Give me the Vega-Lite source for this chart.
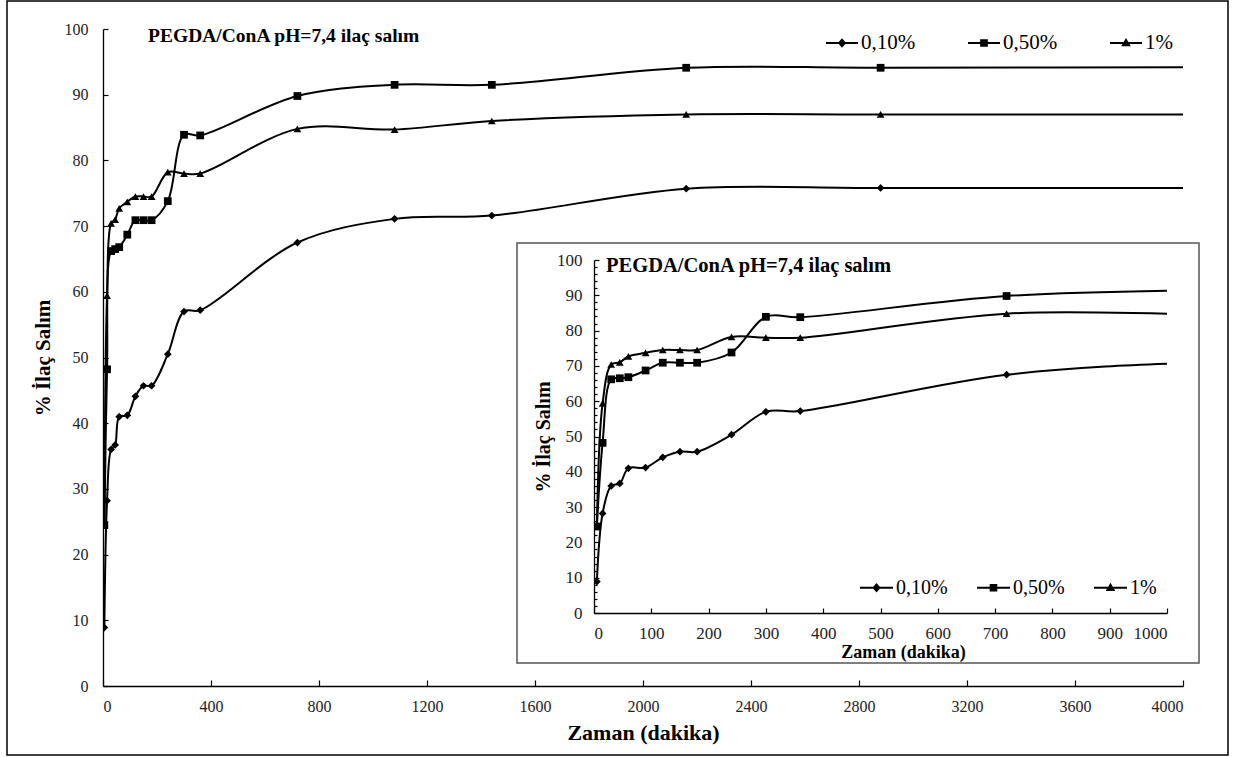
{
  "$schema": "https://vega.github.io/schema/vega-lite/v6.json",
  "background": "white",
  "padding": {"left": 6, "top": 0, "right": 0, "bottom": 0},
  "config": {
    "view": {"stroke": null},
    "font": "Liberation Serif",
    "axis": {"grid": false, "domainColor": "black", "tickColor": "black", "labelColor": "#222", "titleColor": "black", "labelFont": "Liberation Serif", "titleFont": "Liberation Serif", "titleFontWeight": "bold", "domainWidth": 1.3, "tickWidth": 1.2}
  },
  "datasets": {
    "d": [
      {"t": 5, "v": 8.9, "s": "0,10%"}, {"t": 15, "v": 28.2, "s": "0,10%"}, {"t": 30, "v": 36.0, "s": "0,10%"}, {"t": 45, "v": 36.7, "s": "0,10%"}, {"t": 60, "v": 41.0, "s": "0,10%"}, {"t": 90, "v": 41.2, "s": "0,10%"}, {"t": 120, "v": 44.1, "s": "0,10%"}, {"t": 150, "v": 45.7, "s": "0,10%"}, {"t": 180, "v": 45.7, "s": "0,10%"}, {"t": 240, "v": 50.5, "s": "0,10%"}, {"t": 300, "v": 57.0, "s": "0,10%"}, {"t": 360, "v": 57.2, "s": "0,10%"}, {"t": 720, "v": 67.5, "s": "0,10%"}, {"t": 1080, "v": 71.1, "s": "0,10%"}, {"t": 1440, "v": 71.6, "s": "0,10%"}, {"t": 2160, "v": 75.7, "s": "0,10%"}, {"t": 2880, "v": 75.8, "s": "0,10%"}, {"t": 4320, "v": 75.8, "s": "0,10%"},
      {"t": 5, "v": 24.5, "s": "0,50%"}, {"t": 15, "v": 48.2, "s": "0,50%"}, {"t": 30, "v": 66.2, "s": "0,50%"}, {"t": 45, "v": 66.5, "s": "0,50%"}, {"t": 60, "v": 66.8, "s": "0,50%"}, {"t": 90, "v": 68.7, "s": "0,50%"}, {"t": 120, "v": 70.9, "s": "0,50%"}, {"t": 150, "v": 70.9, "s": "0,50%"}, {"t": 180, "v": 70.9, "s": "0,50%"}, {"t": 240, "v": 73.8, "s": "0,50%"}, {"t": 300, "v": 83.9, "s": "0,50%"}, {"t": 360, "v": 83.8, "s": "0,50%"}, {"t": 720, "v": 89.8, "s": "0,50%"}, {"t": 1080, "v": 91.5, "s": "0,50%"}, {"t": 1440, "v": 91.5, "s": "0,50%"}, {"t": 2160, "v": 94.1, "s": "0,50%"}, {"t": 2880, "v": 94.1, "s": "0,50%"}, {"t": 4320, "v": 94.2, "s": "0,50%"},
      {"t": 5, "v": 24.5, "s": "1%"}, {"t": 15, "v": 59.4, "s": "1%"}, {"t": 30, "v": 70.4, "s": "1%"}, {"t": 45, "v": 71.0, "s": "1%"}, {"t": 60, "v": 72.7, "s": "1%"}, {"t": 90, "v": 73.7, "s": "1%"}, {"t": 120, "v": 74.5, "s": "1%"}, {"t": 150, "v": 74.5, "s": "1%"}, {"t": 180, "v": 74.5, "s": "1%"}, {"t": 240, "v": 78.2, "s": "1%"}, {"t": 300, "v": 78.0, "s": "1%"}, {"t": 360, "v": 78.0, "s": "1%"}, {"t": 720, "v": 84.8, "s": "1%"}, {"t": 1080, "v": 84.7, "s": "1%"}, {"t": 1440, "v": 86.0, "s": "1%"}, {"t": 2160, "v": 87.0, "s": "1%"}, {"t": 2880, "v": 87.0, "s": "1%"}, {"t": 4320, "v": 87.0, "s": "1%"}
    ]
  },
  "bounds": "flush",
  "align": "none",
  "columns": 1,
  "spacing": -726,
  "resolve": {"scale": {"shape": "independent"}, "legend": {"shape": "independent"}},
  "concat": [
    {
      "width": 1221, "height": 754,
      "data": {"values": [{}]},
      "mark": {"type": "point", "opacity": 0},
      "view": {"stroke": "black", "strokeWidth": 1.5, "fill": "white"}
    },
    {
      "bounds": "flush",
      "spacing": 0,
      "resolve": {"scale": {"shape": "independent"}, "legend": {"shape": "independent"}},
      "hconcat": [
        {"width": 96, "height": 1, "data": {"values": [{}]}, "mark": {"type": "point", "opacity": 0}},
        {
          "bounds": "flush",
          "align": "none",
          "columns": 1,
          "spacing": -443,
          "resolve": {"scale": {"shape": "independent"}, "legend": {"shape": "independent"}},
          "concat": [
            {
              "width": 1080, "height": 657,
              "data": {"name": "d"},
              "resolve": {"scale": {"shape": "independent"}, "legend": {"shape": "independent"}},
              "layer": [
                {"mark": {"type": "line", "interpolate": "catmull-rom", "color": "black", "strokeWidth": 2, "clip": true},
                 "encoding": {
                   "x": {"field": "t", "type": "quantitative", "scale": {"domain": [0, 4000], "nice": false}, "axis": {"values": [0, 400, 800, 1200, 1600, 2000, 2400, 2800, 3200, 3600, 4000], "format": "d", "tickSize": -6, "labelPadding": 18, "labelFontSize": 16, "title": "Zaman (dakika)", "titleFontSize": 22, "titlePadding": 8}},
                   "y": {"field": "v", "type": "quantitative", "scale": {"domain": [0, 100], "nice": false}, "axis": {"values": [0, 10, 20, 30, 40, 50, 60, 70, 80, 90, 100], "format": "d", "tickSize": -5, "labelPadding": 20, "labelFontSize": 16, "title": "% İlaç Salım", "titleFontSize": 21, "titlePadding": 11}},
                   "detail": {"field": "s", "type": "nominal"}}},
                {"mark": {"type": "point", "filled": true, "color": "black", "opacity": 1, "size": 60, "clip": true},
                 "encoding": {
                   "x": {"field": "t", "type": "quantitative"},
                   "y": {"field": "v", "type": "quantitative"},
                   "shape": {"field": "s", "type": "nominal", "scale": {"domain": ["0,10%", "0,50%", "1%"], "range": ["diamond", "square", "triangle-up"]}, "legend": null}}},
                {"mark": {"type": "point", "filled": true, "color": "black", "opacity": 0},
                 "encoding": {
                   "shape": {"field": "s", "type": "nominal", "scale": {"domain": ["0,10%", "0,50%", "1%"], "range": ["M-1,-0.06H1V0.06H-1ZM0,-0.3L0.26,0L0,0.3L-0.26,0Z", "M-1,-0.06H1V0.06H-1ZM-0.24,-0.24H0.24V0.24H-0.24Z", "M-1,-0.06H1V0.06H-1ZM0,-0.32L0.3,0.2H-0.3Z"]},
                     "legend": {"orient": "none", "legendX": 723, "legendY": -2, "direction": "horizontal", "title": null, "symbolSize": 1024, "symbolOpacity": 1, "labelFont": "Liberation Serif", "labelFontSize": 21, "labelColor": "black", "labelOffset": 3, "columnPadding": 52, "symbolStrokeWidth": 0, "symbolFillColor": "black"}}}},
                {"data": {"values": [{}]},
                 "mark": {"type": "text", "text": "PEGDA/ConA pH=7,4 ilaç salım", "align": "left", "baseline": "alphabetic", "font": "Liberation Serif", "fontSize": 19.5, "fontWeight": "bold", "color": "black"},
                 "encoding": {"x": {"datum": 167, "type": "quantitative"}, "y": {"datum": 98, "type": "quantitative"}}}
              ]
            },
            {
              "bounds": "flush",
              "spacing": 0,
              "resolve": {"scale": {"shape": "independent"}, "legend": {"shape": "independent"}},
              "hconcat": [
                {"width": 414, "height": 1, "data": {"values": [{}]}, "mark": {"type": "point", "opacity": 0}},
                {
                  "bounds": "flush",
                  "align": "none",
                  "columns": 1,
                  "spacing": -403,
                  "resolve": {"scale": {"shape": "independent"}, "legend": {"shape": "independent"}},
                  "concat": [
                    {
                      "width": 682, "height": 420,
                      "data": {"values": [{}]},
                      "mark": {"type": "point", "opacity": 0},
                      "view": {"stroke": "#555", "strokeWidth": 1.5, "fill": "white"}
                    },
                    {
                      "bounds": "flush",
                      "spacing": 0,
                      "resolve": {"scale": {"shape": "independent"}, "legend": {"shape": "independent"}},
                      "hconcat": [
                        {"width": 77, "height": 1, "data": {"values": [{}]}, "mark": {"type": "point", "opacity": 0}},
                        {
                          "width": 573, "height": 353,
                          "data": {"name": "d"},
                          "resolve": {"axis": {"y": "independent"}, "scale": {"shape": "independent"}, "legend": {"shape": "independent"}},
                          "layer": [
                            {"mark": {"type": "line", "interpolate": "catmull-rom", "color": "black", "strokeWidth": 2, "clip": true},
                             "encoding": {
                               "x": {"field": "t", "type": "quantitative", "scale": {"domain": [0, 1000], "nice": false}, "axis": {"values": [0, 100, 200, 300, 400, 500, 600, 700, 800, 900, 1000], "format": "d", "tickSize": -5, "labelPadding": 17, "labelFontSize": 17, "title": "Zaman  (dakika)", "titleFontSize": 18, "titlePadding": 2, "titleX": 309}},
                               "y": {"field": "v", "type": "quantitative", "scale": {"domain": [0, 100], "nice": false}, "axis": {"orient": "left", "values": [0, 10, 20, 30, 40, 50, 60, 70, 80, 90, 100], "format": "d", "tickSize": -5, "labelPadding": 17, "labelFontSize": 17, "title": "% İlaç Salım", "titleFontSize": 20, "titlePadding": 3}},
                               "detail": {"field": "s", "type": "nominal"}}},
                            {"mark": {"type": "point", "filled": true, "color": "black", "opacity": 1, "size": 60, "clip": true},
                             "encoding": {
                               "x": {"field": "t", "type": "quantitative"},
                               "y": {"field": "v", "type": "quantitative", "axis": null},
                               "shape": {"field": "s", "type": "nominal", "scale": {"domain": ["0,10%", "0,50%", "1%"], "range": ["diamond", "square", "triangle-up"]}, "legend": null}}},
                            {"mark": {"type": "point", "filled": true, "color": "black", "opacity": 0},
                             "encoding": {
                               "shape": {"field": "s", "type": "nominal", "scale": {"domain": ["0,10%", "0,50%", "1%"], "range": ["M-1,-0.06H1V0.06H-1ZM0,-0.29L0.25,0L0,0.29L-0.25,0Z", "M-1,-0.06H1V0.06H-1ZM-0.23,-0.23H0.23V0.23H-0.23Z", "M-1,-0.06H1V0.06H-1ZM0,-0.31L0.29,0.19H-0.29Z"]},
                                 "legend": {"orient": "none", "legendX": 266, "legendY": 311, "direction": "horizontal", "title": null, "symbolSize": 1089, "symbolOpacity": 1, "labelFont": "Liberation Serif", "labelFontSize": 20, "labelColor": "black", "labelOffset": 3, "columnPadding": 29, "symbolStrokeWidth": 0, "symbolFillColor": "black"}}}},
                            {"mark": {"type": "point", "opacity": 0},
                             "encoding": {"y": {"field": "v", "type": "quantitative", "axis": {"orient": "left", "values": [2, 4, 6, 8, 12, 14, 16, 18, 22, 24, 26, 28, 32, 34, 36, 38, 42, 44, 46, 48, 52, 54, 56, 58, 62, 64, 66, 68, 72, 74, 76, 78, 82, 84, 86, 88, 92, 94, 96, 98], "labels": false, "domain": false, "tickSize": -3, "title": null}}}},
                            {"data": {"values": [{}]},
                             "mark": {"type": "text", "text": "PEGDA/ConA pH=7,4  ilaç salım", "align": "left", "baseline": "alphabetic", "font": "Liberation Serif", "fontSize": 20.5, "fontWeight": "bold", "color": "black"},
                             "encoding": {"x": {"datum": 21, "type": "quantitative"}, "y": {"datum": 96.6, "type": "quantitative", "axis": null}}}
                          ]
                        }
                      ]
                    }
                  ]
                }
              ]
            }
          ]
        }
      ]
    }
  ]
}
